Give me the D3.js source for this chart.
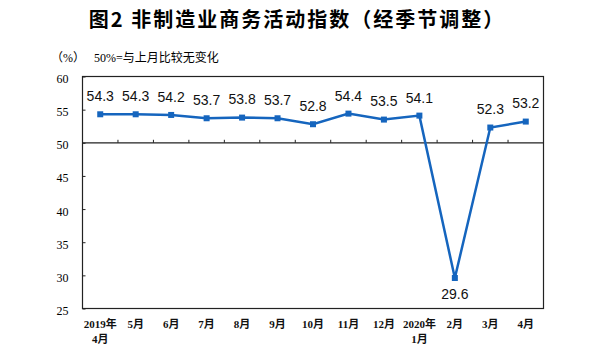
<!DOCTYPE html>
<html><head><meta charset="utf-8">
<script src="https://cdn.jsdelivr.net/npm/d3@7"></script>
<style>body{margin:0;background:#fff}</style>
</head><body>
<svg id="c" width="591" height="356"></svg>
<script>
const months = [["2019年","4月"],["5月"],["6月"],["7月"],["8月"],["9月"],["10月"],["11月"],["12月"],["2020年","1月"],["2月"],["3月"],["4月"]];
const values = [54.3,54.3,54.2,53.7,53.8,53.7,52.8,54.4,53.5,54.1,29.6,52.3,53.2];
const yTicks = [25,30,35,40,45,50,55,60];
const title = "图2 非制造业商务活动指数（经季节调整）";

const svg = d3.select("#c");
const L=82.5, R=543.5, T=76.5, B=308.5;
const x = d3.scaleBand().domain(d3.range(months.length)).range([L,R]);
const y = d3.scaleLinear().domain([25,60]).range([B,T]);
const serif = "'Liberation Serif','Times New Roman','Noto Sans CJK SC',serif";
const cjk = "'Noto Sans CJK SC',sans-serif";

svg.append("text").attr("x",297).attr("y",27).attr("text-anchor","middle")
  .attr("font-family",cjk).attr("font-weight","bold").attr("font-size",20).attr("letter-spacing",2).attr("fill","#000").text(title);

svg.append("text").attr("x",51).attr("y",62).attr("font-family",serif).attr("font-size",12).text("（%）");
svg.append("text").attr("x",94).attr("y",62).attr("font-family",serif).attr("font-size",12).text("50%=与上月比较无变化");

// frame
svg.append("rect").attr("x",L).attr("y",T).attr("width",R-L).attr("height",B-T)
  .attr("fill","none").attr("stroke","#222").attr("stroke-width",1.2);

// y axis
const yAxis = d3.axisLeft(y).tickValues(yTicks).tickSize(-3).tickPadding(14).tickFormat(d3.format("d"));
const ga = svg.append("g").attr("transform",`translate(${L},0)`).call(yAxis);
ga.select(".domain").remove();
ga.selectAll("line").attr("stroke","#222");
ga.selectAll("text").attr("font-family",serif).attr("font-size",12).attr("fill","#000").attr("dy","0.5em");

// 50 line
svg.append("line").attr("x1",L).attr("x2",R).attr("y1",y(50)).attr("y2",y(50)).attr("stroke","#222").attr("stroke-width",1.2);
// category ticks on 50 line
svg.selectAll(".ct").data(d3.range(1,months.length)).join("line")
  .attr("x1",d=>x(d)).attr("x2",d=>x(d)).attr("y1",y(50)).attr("y2",y(50)-3).attr("stroke","#222");

// x labels
const xl = svg.selectAll(".xl").data(months).join("text")
  .attr("text-anchor","middle").attr("font-family",serif).attr("font-size",11).attr("font-weight","bold").attr("fill","#111");
xl.each(function(d,i){
  const t=d3.select(this);
  d.forEach((s,j)=>t.append("tspan").attr("x",x(i)+x.bandwidth()/2).attr("y",328+j*15).text(s));
});

const cx = i => x(i)+x.bandwidth()/2;
const color = "#1565BE";
svg.append("path").datum(values).attr("fill","none").attr("stroke",color).attr("stroke-width",2.5)
  .attr("d",d3.line().x((d,i)=>cx(i)).y(d=>y(d)));
svg.selectAll(".mk").data(values).join("rect")
  .attr("x",(d,i)=>cx(i)-3).attr("y",d=>y(d)-3).attr("width",6).attr("height",6).attr("fill",color);

svg.selectAll(".vl").data(values).join("text")
  .attr("x",(d,i)=>cx(i)).attr("y",d=>d<50? y(d)+16 : y(d)-18)
  .attr("dy","0.35em").attr("text-anchor","middle")
  .attr("font-family","'Liberation Sans',Arial,sans-serif").attr("font-size",14).attr("fill","#111")
  .text(d=>d.toFixed(1));
</script>
</body></html>
